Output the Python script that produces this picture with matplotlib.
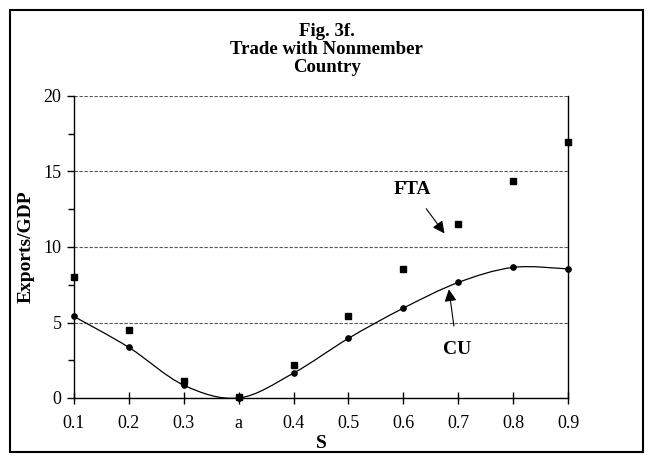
import numpy as np
import matplotlib.pyplot as plt
from matplotlib.path import Path
from matplotlib.patches import PathPatch, Rectangle

plt.rcParams['font.family'] = ['Liberation Serif', 'DejaVu Serif']

# data
categories = ['0.1', '0.2', '0.3', 'a', '0.4', '0.5', '0.6', '0.7', '0.8', '0.9']
fta = [8.0, 4.5, 1.1, 0.05, 2.2, 5.4, 8.55, 11.5, 14.35, 16.95]
cu = [5.4, 3.35, 0.85, 0.0, 1.65, 3.95, 5.95, 7.65, 8.65, 8.55]


def smooth_path(xs, ys):
    # Excel-like smoothed line: cubic bezier, catmull-rom control points
    pts = np.column_stack([xs, ys]).astype(float)
    n = len(pts)
    verts = [pts[0]]
    codes = [Path.MOVETO]
    for i in range(n - 1):
        p0 = pts[i - 1] if i > 0 else pts[i]
        p1 = pts[i]
        p2 = pts[i + 1]
        p3 = pts[i + 2] if i + 2 < n else pts[i + 1]
        c1 = p1 + (p2 - p0) / 6.0
        c2 = p2 - (p3 - p1) / 6.0
        verts += [c1, c2, p2]
        codes += [Path.CURVE4] * 3
    return Path(verts, codes)


fig = plt.figure(figsize=(6.53, 4.68), dpi=100)
ax = fig.add_axes([74 / 653, 1 - 398 / 468, 494 / 653, 302 / 468])

x = np.arange(len(categories))
ax.add_patch(PathPatch(smooth_path(x, cu), facecolor='none', edgecolor='black', lw=0.9))
ax.plot(x, cu, 'o', color='black', markersize=3.8, clip_on=False, zorder=4)
ax.plot(x, fta, 's', color='black', markersize=4.5, clip_on=False, zorder=4)

ax.set_xlim(0, len(categories) - 1)
ax.set_ylim(0, 20)
ax.set_xticks(x)
ax.set_xticklabels(categories)
ax.set_yticks([0, 5, 10, 15, 20])
ax.set_yticks(np.arange(0, 20.1, 2.5), minor=True)
ax.tick_params(axis='x', direction='inout', length=9, width=1, labelsize=13, pad=8)
ax.tick_params(axis='y', which='major', direction='out', length=5, width=1, labelsize=13, pad=4)
ax.tick_params(axis='y', which='minor', direction='out', length=4, width=1)

ax.yaxis.grid(True, linestyle=(0, (3, 1.5)), color='#555555', linewidth=0.8)
ax.set_axisbelow(True)
ax.spines['top'].set_visible(False)
for s in ['left', 'right', 'bottom']:
    ax.spines[s].set_linewidth(1)

ax.set_ylabel('Exports/GDP', fontsize=14, fontweight='bold', labelpad=6)
ax.set_xlabel('S', fontsize=14, fontweight='bold', labelpad=2)

fig.text(0.5, 1 - 31 / 468, 'Fig. 3f.', ha='center', va='center', fontsize=13.5, fontweight='bold')
fig.text(0.5, 1 - 50 / 468, 'Trade with Nonmember', ha='center', va='center', fontsize=13.5, fontweight='bold')
fig.text(0.5, 1 - 68 / 468, 'Country', ha='center', va='center', fontsize=13.5, fontweight='bold')

# annotations
ax.annotate('FTA', xy=(6.75, 10.9), xytext=(6.16, 13.8), fontsize=14, fontweight='bold',
            ha='center', va='center',
            arrowprops=dict(arrowstyle='-|>', color='black', lw=0.8, mutation_scale=18,
                            shrinkA=7, shrinkB=0))
ax.annotate('CU', xy=(6.83, 7.2), xytext=(6.98, 3.2), fontsize=14, fontweight='bold',
            ha='center', va='center',
            arrowprops=dict(arrowstyle='-|>', color='black', lw=0.8, mutation_scale=18,
                            shrinkA=9, shrinkB=0))

fig.add_artist(Rectangle((10 / 653, 1 - 452 / 468), 633 / 653, 442 / 468,
                         transform=fig.transFigure, fill=False, edgecolor='black', lw=1.5))

fig.savefig('out.png', dpi=100)
